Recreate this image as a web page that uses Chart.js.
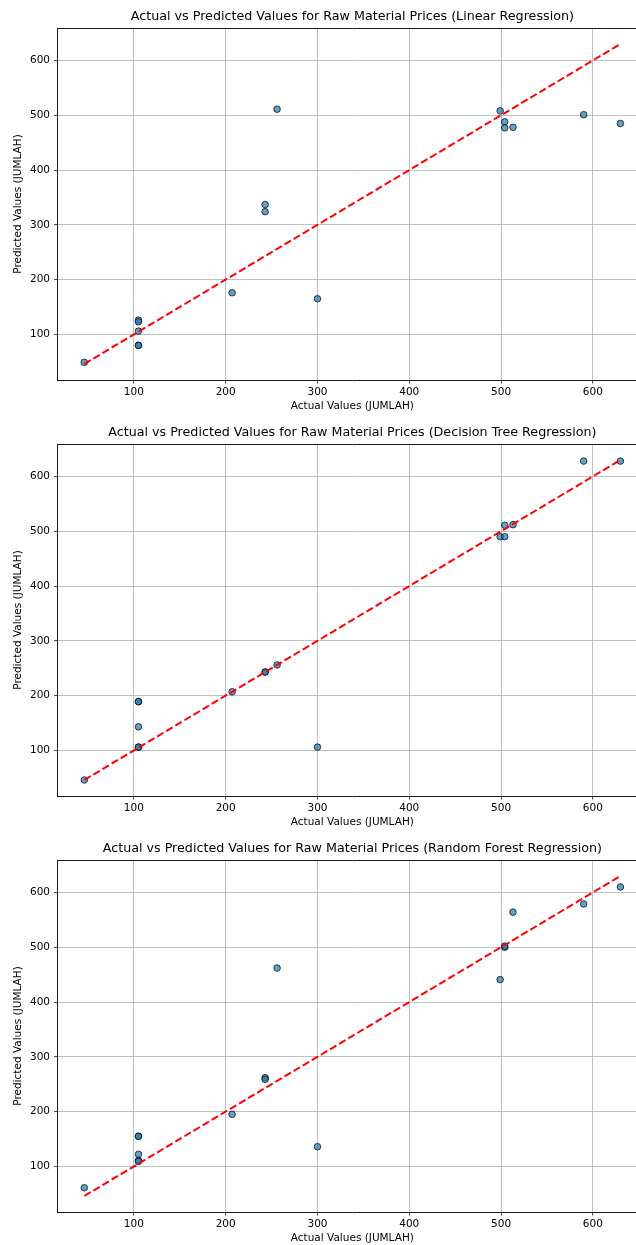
<!DOCTYPE html>
<html>
<head>
<meta charset="utf-8">
<title>Actual vs Predicted Values for Raw Material Prices</title>
<script src="https://cdn.jsdelivr.net/npm/chart.js@4.4.1/dist/chart.umd.min.js"></script>
<style>
  body { margin: 0; background: #fff; overflow: hidden; }
  .panel { width: 636px; height: 416px; overflow: hidden; }
  .panel.last { height: 413px; }
</style>
</head>
<body>
<div class="panel"><canvas id="linearChart" width="660" height="416"></canvas></div>
<div class="panel"><canvas id="treeChart" width="660" height="416"></canvas></div>
<div class="panel last"><canvas id="forestChart" width="660" height="416"></canvas></div>
<script>
// values
const actualValues = [46, 105, 105, 105, 105, 105, 207, 243, 243, 256, 300, 499, 504, 504, 513, 590, 630];
const linearPredicted = [49, 126, 123, 106, 80, 80, 176, 337, 324, 511, 165, 508, 488, 477, 478, 501, 485];
const treePredicted = [46, 189, 189, 143, 106, 106, 207, 243, 243, 256, 106, 490, 511, 490, 512, 628, 628];
const forestPredicted = [61, 155, 155, 122, 111, 109, 195, 262, 259, 462, 136, 441, 500, 502, 564, 579, 610];

const xTickValues = [100, 200, 300, 400, 500, 600];
const yTickValues = [100, 200, 300, 400, 500, 600];

const xAxisLabel = "Actual Values (JUMLAH)";
const yAxisLabel = "Predicted Values (JUMLAH)";

Chart.defaults.font.family = "'DejaVu Sans', sans-serif";
Chart.defaults.color = "#000";

// matplotlib style: 5% margin around the data
function paddedRange(values) {
  const lo = Math.min(...values);
  const hi = Math.max(...values);
  const pad = (hi - lo) * 0.05;
  return [lo - pad, hi + pad];
}

// top and right spines (Chart.js only draws the axis sides)
const axesFrame = {
  id: "axesFrame",
  afterDraw(chart) {
    const { ctx, chartArea } = chart;
    const top = Math.round(chartArea.top) + 0.5;
    const right = Math.round(chartArea.right) + 0.5;
    ctx.save();
    ctx.strokeStyle = "#1a1a1a";
    ctx.lineWidth = 1;
    ctx.beginPath();
    ctx.moveTo(chartArea.left, top);
    ctx.lineTo(right, top);
    ctx.lineTo(right, chartArea.bottom);
    ctx.stroke();
    ctx.restore();
  }
};

function drawScatterChart(canvasId, title, predicted) {
  const lineMin = Math.min(...actualValues);
  const lineMax = Math.max(...actualValues);
  const xRange = paddedRange(actualValues.concat([lineMin, lineMax]));
  const yRange = paddedRange(predicted.concat([lineMin, lineMax]));

  const points = actualValues.map((x, i) => ({ x: x, y: predicted[i] }));

  const gridStyle = {
    color: "#b0b0b0",
    lineWidth: 0.8,
    tickColor: "#1a1a1a",
    tickLength: 3.5,
    tickWidth: 0.8
  };
  const borderStyle = { display: true, color: "#1a1a1a", width: 1 };

  new Chart(document.getElementById(canvasId), {
    data: {
      datasets: [
        {
          type: "line",
          data: [{ x: lineMin, y: lineMin }, { x: lineMax, y: lineMax }],
          borderColor: "#ff0000",
          borderWidth: 2,
          borderDash: [7.4, 3.2],
          pointRadius: 0,
          fill: false,
          order: 0
        },
        {
          type: "scatter",
          data: points,
          backgroundColor: "rgba(31, 119, 180, 0.7)",
          borderColor: "rgba(0, 0, 0, 0.7)",
          borderWidth: 1,
          pointRadius: 3.3,
          order: 1
        }
      ]
    },
    options: {
      responsive: false,
      animation: false,
      layout: { padding: { top: 0, right: 12.8, bottom: 0, left: 0 } },
      plugins: {
        legend: { display: false },
        tooltip: { enabled: false },
        title: {
          display: true,
          text: title,
          fullSize: false,
          color: "#000",
          font: { size: 12.7, weight: "normal" },
          padding: { top: 9.4, bottom: 3.36 }
        }
      },
      scales: {
        x: {
          type: "linear",
          min: xRange[0],
          max: xRange[1],
          afterBuildTicks: (scale) => {
            scale.ticks = xTickValues.map((v) => ({ value: v }));
          },
          afterFit: (scale) => {
            scale.height = 36;
          },
          grid: gridStyle,
          border: borderStyle,
          ticks: { padding: 2, font: { size: 10.5 }, color: "#000" },
          title: {
            display: true,
            text: xAxisLabel,
            color: "#000",
            font: { size: 10.5 },
            padding: { top: 0, bottom: 3 }
          }
        },
        y: {
          type: "linear",
          min: yRange[0],
          max: yRange[1],
          afterBuildTicks: (scale) => {
            scale.ticks = yTickValues.map((v) => ({ value: v }));
          },
          afterFit: (scale) => {
            scale.width = 57.5;
          },
          grid: gridStyle,
          border: borderStyle,
          ticks: { padding: 4, font: { size: 10.5 }, color: "#000" },
          title: {
            display: true,
            text: yAxisLabel,
            color: "#000",
            font: { size: 10.5 },
            padding: { top: 12.2, bottom: 0 }
          }
        }
      }
    },
    plugins: [axesFrame]
  });
}

drawScatterChart("linearChart", "Actual vs Predicted Values for Raw Material Prices (Linear Regression)", linearPredicted);
drawScatterChart("treeChart", "Actual vs Predicted Values for Raw Material Prices (Decision Tree Regression)", treePredicted);
drawScatterChart("forestChart", "Actual vs Predicted Values for Raw Material Prices (Random Forest Regression)", forestPredicted);
</script>
</body>
</html>
